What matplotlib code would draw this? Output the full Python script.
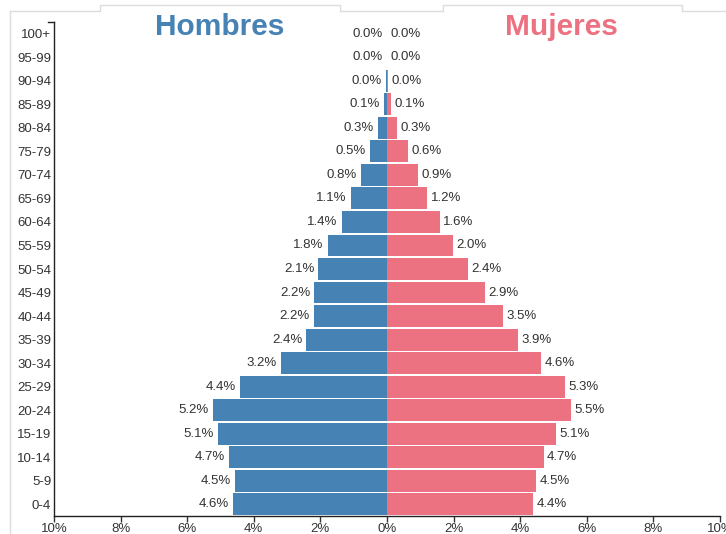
import matplotlib.pyplot as plt
import numpy as np
from matplotlib.lines import Line2D

MEN_BLUE = "#4682b4"
WOMEN_PINK = "#ec7282"
TEXT_DARK = "#333333"
FRAME_GREY = "#dcdcdc"

plt.rcParams["font.family"] = ["Liberation Sans", "DejaVu Sans"]

age_groups = ["0-4", "5-9", "10-14", "15-19", "20-24", "25-29", "30-34", "35-39",
              "40-44", "45-49", "50-54", "55-59", "60-64", "65-69", "70-74",
              "75-79", "80-84", "85-89", "90-94", "95-99", "100+"]
men_pct = [4.62, 4.55, 4.74, 5.07, 5.22, 4.41, 3.18, 2.42, 2.19, 2.18, 2.06,
           1.78, 1.36, 1.08, 0.78, 0.50, 0.27, 0.10, 0.03, 0.01, 0.0]
women_pct = [4.38, 4.48, 4.70, 5.08, 5.52, 5.34, 4.63, 3.92, 3.48, 2.94, 2.43,
             1.98, 1.58, 1.21, 0.93, 0.64, 0.31, 0.12, 0.04, 0.01, 0.0]
x_ticks = [-10, -8, -6, -4, -2, 0, 2, 4, 6, 8, 10]

W, H = 726, 534
fig = plt.figure(figsize=(W / 100, H / 100), dpi=100)
ax = fig.add_axes([54 / W, 18 / H, 666 / W, 494 / H])

y = np.arange(len(age_groups))
men = np.asarray(men_pct)
women = np.asarray(women_pct)

ax.barh(y, -men, height=0.93, color=MEN_BLUE, linewidth=0)
ax.barh(y, women, height=0.93, color=WOMEN_PINK, linewidth=0)

for yi, m, w in zip(y, men, women):
    ax.annotate(f"{m:.1f}%", (-m, yi), xytext=(-3, 0), textcoords="offset points",
                ha="right", va="center", fontsize=9.5, color=TEXT_DARK)
    ax.annotate(f"{w:.1f}%", (w, yi), xytext=(2.5, 0), textcoords="offset points",
                ha="left", va="center", fontsize=9.5, color=TEXT_DARK)

ax.set_xlim(-10, 10)
ax.set_ylim(-0.5, len(age_groups) - 0.5)
ax.set_xticks(x_ticks)
ax.set_xticklabels([f"{abs(t)}%" for t in x_ticks])
ax.set_yticks(y)
ax.set_yticklabels(age_groups)
ax.tick_params(axis="y", length=0, pad=2, labelsize=9.5, colors=TEXT_DARK)
ax.tick_params(axis="x", length=4, width=1, pad=1, labelsize=9.5, colors=TEXT_DARK, direction="out")
for side in ("top", "right"):
    ax.spines[side].set_visible(False)
for side in ("left", "bottom"):
    ax.spines[side].set_color("#222222")
    ax.spines[side].set_linewidth(1.0)
# outer tick at the top of the left axis
ax.plot([-0.009, 0], [1, 1], transform=ax.transAxes, color="#222222", lw=1.0, clip_on=False)

fig.text(220 / W, 1 - 27 / H, "Hombres", color=MEN_BLUE, fontsize=21.5,
         fontweight="bold", ha="center", va="center")
fig.text(561 / W, 1 - 27 / H, "Mujeres", color=WOMEN_PINK, fontsize=21.5,
         fontweight="bold", ha="center", va="center")

# faint screenshot frame around the chart
def _line(xs, ys):
    fig.add_artist(Line2D([v / W for v in xs], [1 - v / H for v in ys],
                          color=FRAME_GREY, lw=1.0, transform=fig.transFigure))

_line([10, 10], [11, 534])
_line([10, 100, 100, 340, 340, 443, 443, 682, 682, 726], [11, 11, 5, 5, 11, 11, 5, 5, 11, 11])

fig.savefig("out.png", dpi=100)
